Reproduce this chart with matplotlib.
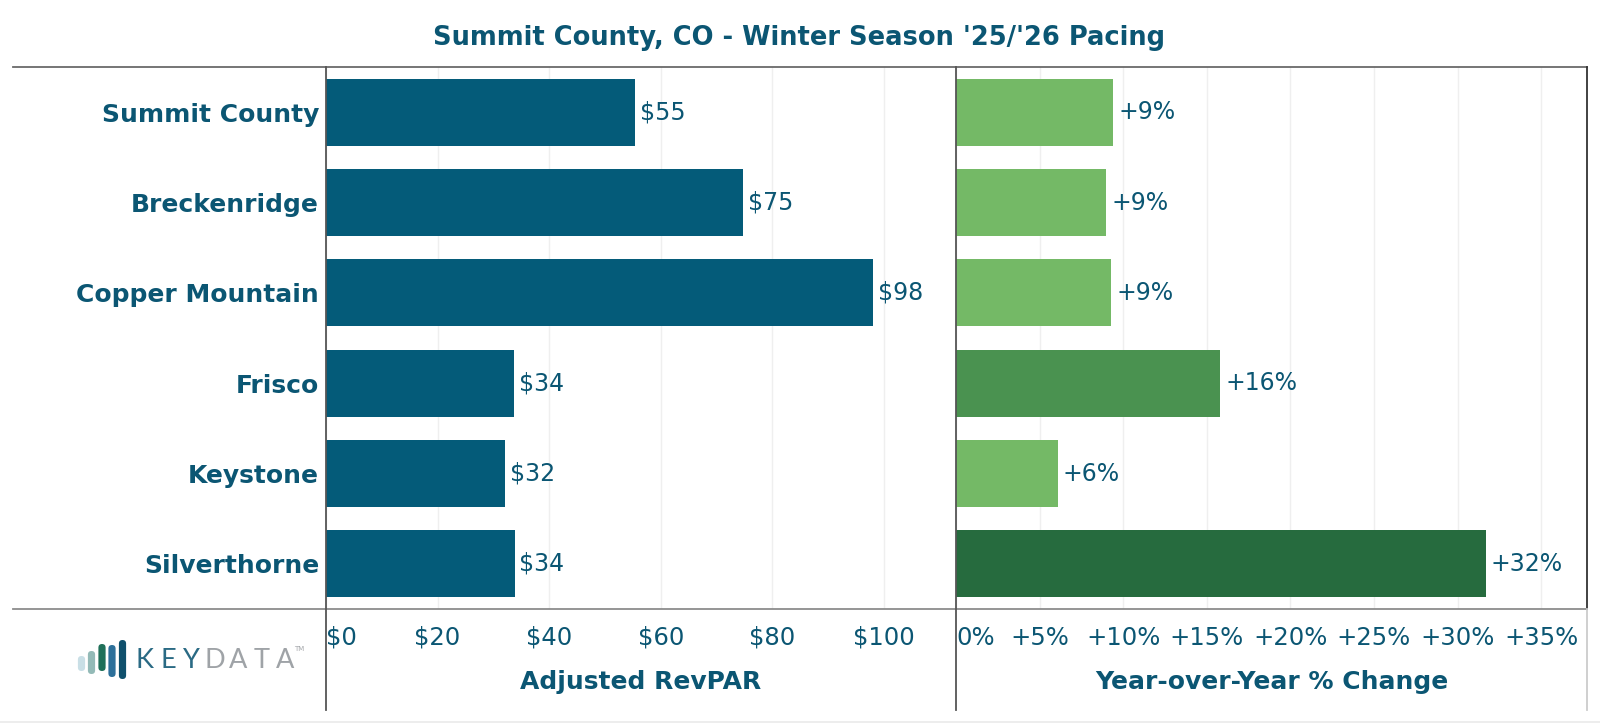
import matplotlib
matplotlib.use("Agg")
import matplotlib.pyplot as plt
from matplotlib.lines import Line2D
from matplotlib.patches import FancyBboxPatch, Rectangle

# ---------------- data ----------------
markets = ["Summit County", "Breckenridge", "Copper Mountain", "Frisco", "Keystone", "Silverthorne"]
revpar = [55.4, 74.8, 98.0, 33.7, 32.1, 33.8]
yoy_pct = [9.4, 9.0, 9.3, 15.8, 6.1, 31.7]
revpar_ticks = [0, 20, 40, 60, 80, 100]
revpar_tick_labels = ["$0", "$20", "$40", "$60", "$80", "$100"]
yoy_ticks = [0, 5, 10, 15, 20, 25, 30, 35]
yoy_tick_labels = ["0%", "+5%", "+10%", "+15%", "+20%", "+25%", "+30%", "+35%"]
title = "Summit County, CO - Winter Season '25/'26 Pacing"
left_title = "Adjusted RevPAR"
right_title = "Year-over-Year % Change"

# ---------------- style ----------------
W, H = 1600, 723
TEAL = "#0b5673"
BAR_BLUE = "#045b79"
GREENS = ["#74b966", "#4a9250", "#266b3e"]   # stepped sequential scale
GREEN_STEPS = [0, 12, 24]
GRID = "#efefef"
FONT = "DejaVu Sans"

def green_for(v):
    c = GREENS[0]
    for s, col in zip(GREEN_STEPS, GREENS):
        if v >= s:
            c = col
    return c

fig = plt.figure(figsize=(W / 100, H / 100), dpi=100)
fig.patch.set_facecolor("white")

top_px, bot_px = 67, 609
lx0, lx1 = 326, 956
rx0, rx1 = 956, 1587

def rect(x0, x1):
    return [x0 / W, 1 - bot_px / H, (x1 - x0) / W, (bot_px - top_px) / H]

axL = fig.add_axes(rect(lx0, lx1))
axR = fig.add_axes(rect(rx0, rx1))

ypos = list(range(len(markets)))

for ax in (axL, axR):
    ax.set_facecolor("white")
    for s in ax.spines.values():
        s.set_visible(False)
    ax.set_ylim(len(markets) - 0.5, -0.5)
    ax.tick_params(axis="both", length=0)
    ax.grid(axis="x", color=GRID, linewidth=1)
    ax.set_axisbelow(True)

# left panel
axL.barh(ypos, revpar, height=0.74, color=BAR_BLUE, zorder=2)
axL.set_xlim(0, 112.9)
axL.set_xticks(revpar_ticks)
axL.set_xticklabels(revpar_tick_labels, fontsize=17.5, color=TEAL, family=FONT)
axL.set_yticks(ypos)
axL.set_yticklabels(markets, fontsize=18, fontweight="bold", color=TEAL, family=FONT)
axL.tick_params(axis="y", pad=5)
axL.tick_params(axis="x", pad=12)
for y, v in zip(ypos, revpar):
    axL.annotate(f"${v:.0f}", (v, y), xytext=(3.5, 0), textcoords="offset points",
                 va="center", ha="left", fontsize=17, color=TEAL, family=FONT)
axL.set_xlabel(left_title, fontsize=18, fontweight="bold", color=TEAL, family=FONT, labelpad=14.5)

# right panel
axR.barh(ypos, yoy_pct, height=0.74, color=[green_for(v) for v in yoy_pct], zorder=2)
axR.set_xlim(0, 37.74)
axR.set_xticks(yoy_ticks)
axR.set_xticklabels(yoy_tick_labels, fontsize=17.5, color=TEAL, family=FONT)
axR.set_yticks([])
axR.tick_params(axis="x", pad=12)
for y, v in zip(ypos, yoy_pct):
    axR.annotate(f"+{v:.0f}%", (v, y), xytext=(3.5, 0), textcoords="offset points",
                 va="center", ha="left", fontsize=17, color=TEAL, family=FONT)
axR.set_xlabel(right_title, fontsize=18, fontweight="bold", color=TEAL, family=FONT, labelpad=14.5)

# first tick labels are nudged inward as in the original
axL.get_xticklabels()[0].set_horizontalalignment("left")
axR.get_xticklabels()[0].set_horizontalalignment("left")

# ---------------- frame / decorations (pixel overlay) ----------------
ov = fig.add_axes([0, 0, 1, 1], zorder=5)
ov.set_xlim(0, W)
ov.set_ylim(H, 0)
ov.axis("off")
ov.patch.set_alpha(0)

ov.add_line(Line2D([13, rx1], [top_px, top_px], color="#6a6a6a", lw=1.3))
ov.add_line(Line2D([13, rx1], [bot_px, bot_px], color="#8c8c8c", lw=1.3))
ov.add_line(Line2D([lx0, lx0], [top_px, 710], color="#555555", lw=1.3))
ov.add_line(Line2D([rx0, rx0], [top_px, 710], color="#555555", lw=1.3))
ov.add_line(Line2D([rx1, rx1], [top_px, bot_px], color="#333333", lw=1.3))
ov.add_line(Line2D([rx1, rx1], [bot_px, 710], color="#cccccc", lw=1.3))
ov.add_patch(Rectangle((0, 720.5), W, 3, color="#ededed", lw=0))

# title
ov.text(799, 38, title, ha="center", va="center", fontsize=18.5, fontweight="bold",
        color=TEAL, family=FONT)

# KEYDATA logo
logo_bars = [(81.5, 656, 671, "#c9dfe6"), (91.5, 651, 674, "#93bab7"),
             (102, 644, 671, "#1f7059"), (112, 645, 677, "#2d709a"),
             (122.5, 640, 679, "#0f506c")]
for cx, y0, y1, col in logo_bars:
    ov.add_patch(FancyBboxPatch((cx - 3.6, y0), 7.2, y1 - y0,
                                boxstyle="round,pad=0,rounding_size=3.6",
                                facecolor=col, edgecolor="none"))
letters = "KEYDATA"
for i, ch in enumerate(letters):
    ov.text(145 + i * 23.3, 661, ch, ha="center", va="center", fontsize=19.5,
            fontweight="normal", family="Lato",
            color="#2a6a84" if i < 3 else "#9fa3a7")
ov.text(299, 649, "TM", ha="center", va="center", fontsize=5, color="#a4a7ab", family=FONT)

fig.savefig("out.png", dpi=100, facecolor="white")
